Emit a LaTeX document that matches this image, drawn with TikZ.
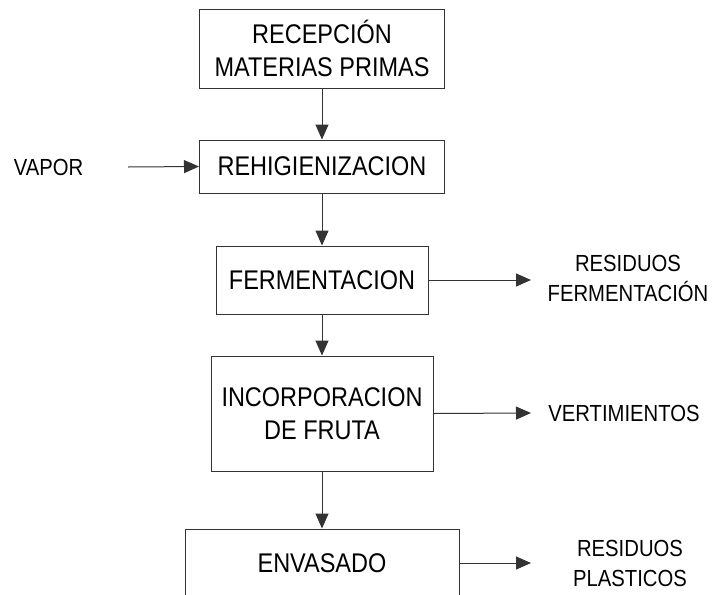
\documentclass[tikz,border=0pt]{standalone}
\usepackage{fontspec}
\setmainfont[FakeStretch=0.87]{Liberation Sans}
\usetikzlibrary{positioning,arrows.meta}

\begin{document}
\begin{tikzpicture}[x=1pt, y=-1pt, >={Triangle[length=15pt,width=13pt]},
  proc/.style={draw=black!80, line width=1pt, align=center, inner sep=0pt,
               font=\fontsize{27}{33}\selectfont},
  lbl/.style={align=center, inner sep=0pt, font=\fontsize{23.3}{30}\selectfont},
  flow/.style={->, draw=black!80, line width=1pt}]
  \clip (0,0) rectangle (713,595);

  % process column
  \node[proc, minimum width=245, minimum height=79] (recep) at (322,48.5)
        {RECEPCIÓN\\MATERIAS PRIMAS};
  \node[proc, minimum width=245, minimum height=53] (rehig) at (322,166.5)
        {REHIGIENIZACION};
  \node[proc, minimum width=212, minimum height=68] (ferm) at (322,280)
        {FERMENTACION};
  \node[proc, minimum width=222, minimum height=115] (fruta) at (322,413.5)
        {INCORPORACION\\DE FRUTA};
  \node[proc, minimum width=274, minimum height=68] (envas) at (322,563)
        {ENVASADO};

  % inputs and outputs
  \node[lbl] (vapor) at (48.5,167) {VAPOR};
  \node[lbl] (resfer) at (628,278) {RESIDUOS\\FERMENTACIÓN};
  \node[lbl] (vert) at (624,413) {VERTIMIENTOS};
  \node[lbl] (resplas) at (630,563) {RESIDUOS\\PLASTICOS};
  \coordinate (vin) at (128,167);
  \coordinate (oferm) at (531,280);
  \coordinate (overt) at (531,413);
  \coordinate (oplas) at (531,563);

  \draw[flow] (recep) -- (rehig);
  \draw[flow] (rehig) -- (ferm);
  \draw[flow] (ferm) -- (fruta);
  \draw[flow] (fruta) -- (envas);
  \draw[flow] (vin) -- (rehig.west);
  \draw[flow] (ferm.east) -- (oferm);
  \draw[flow] (fruta.east) -- (overt);
  \draw[flow] (envas.east) -- (oplas);
\end{tikzpicture}
\end{document}
